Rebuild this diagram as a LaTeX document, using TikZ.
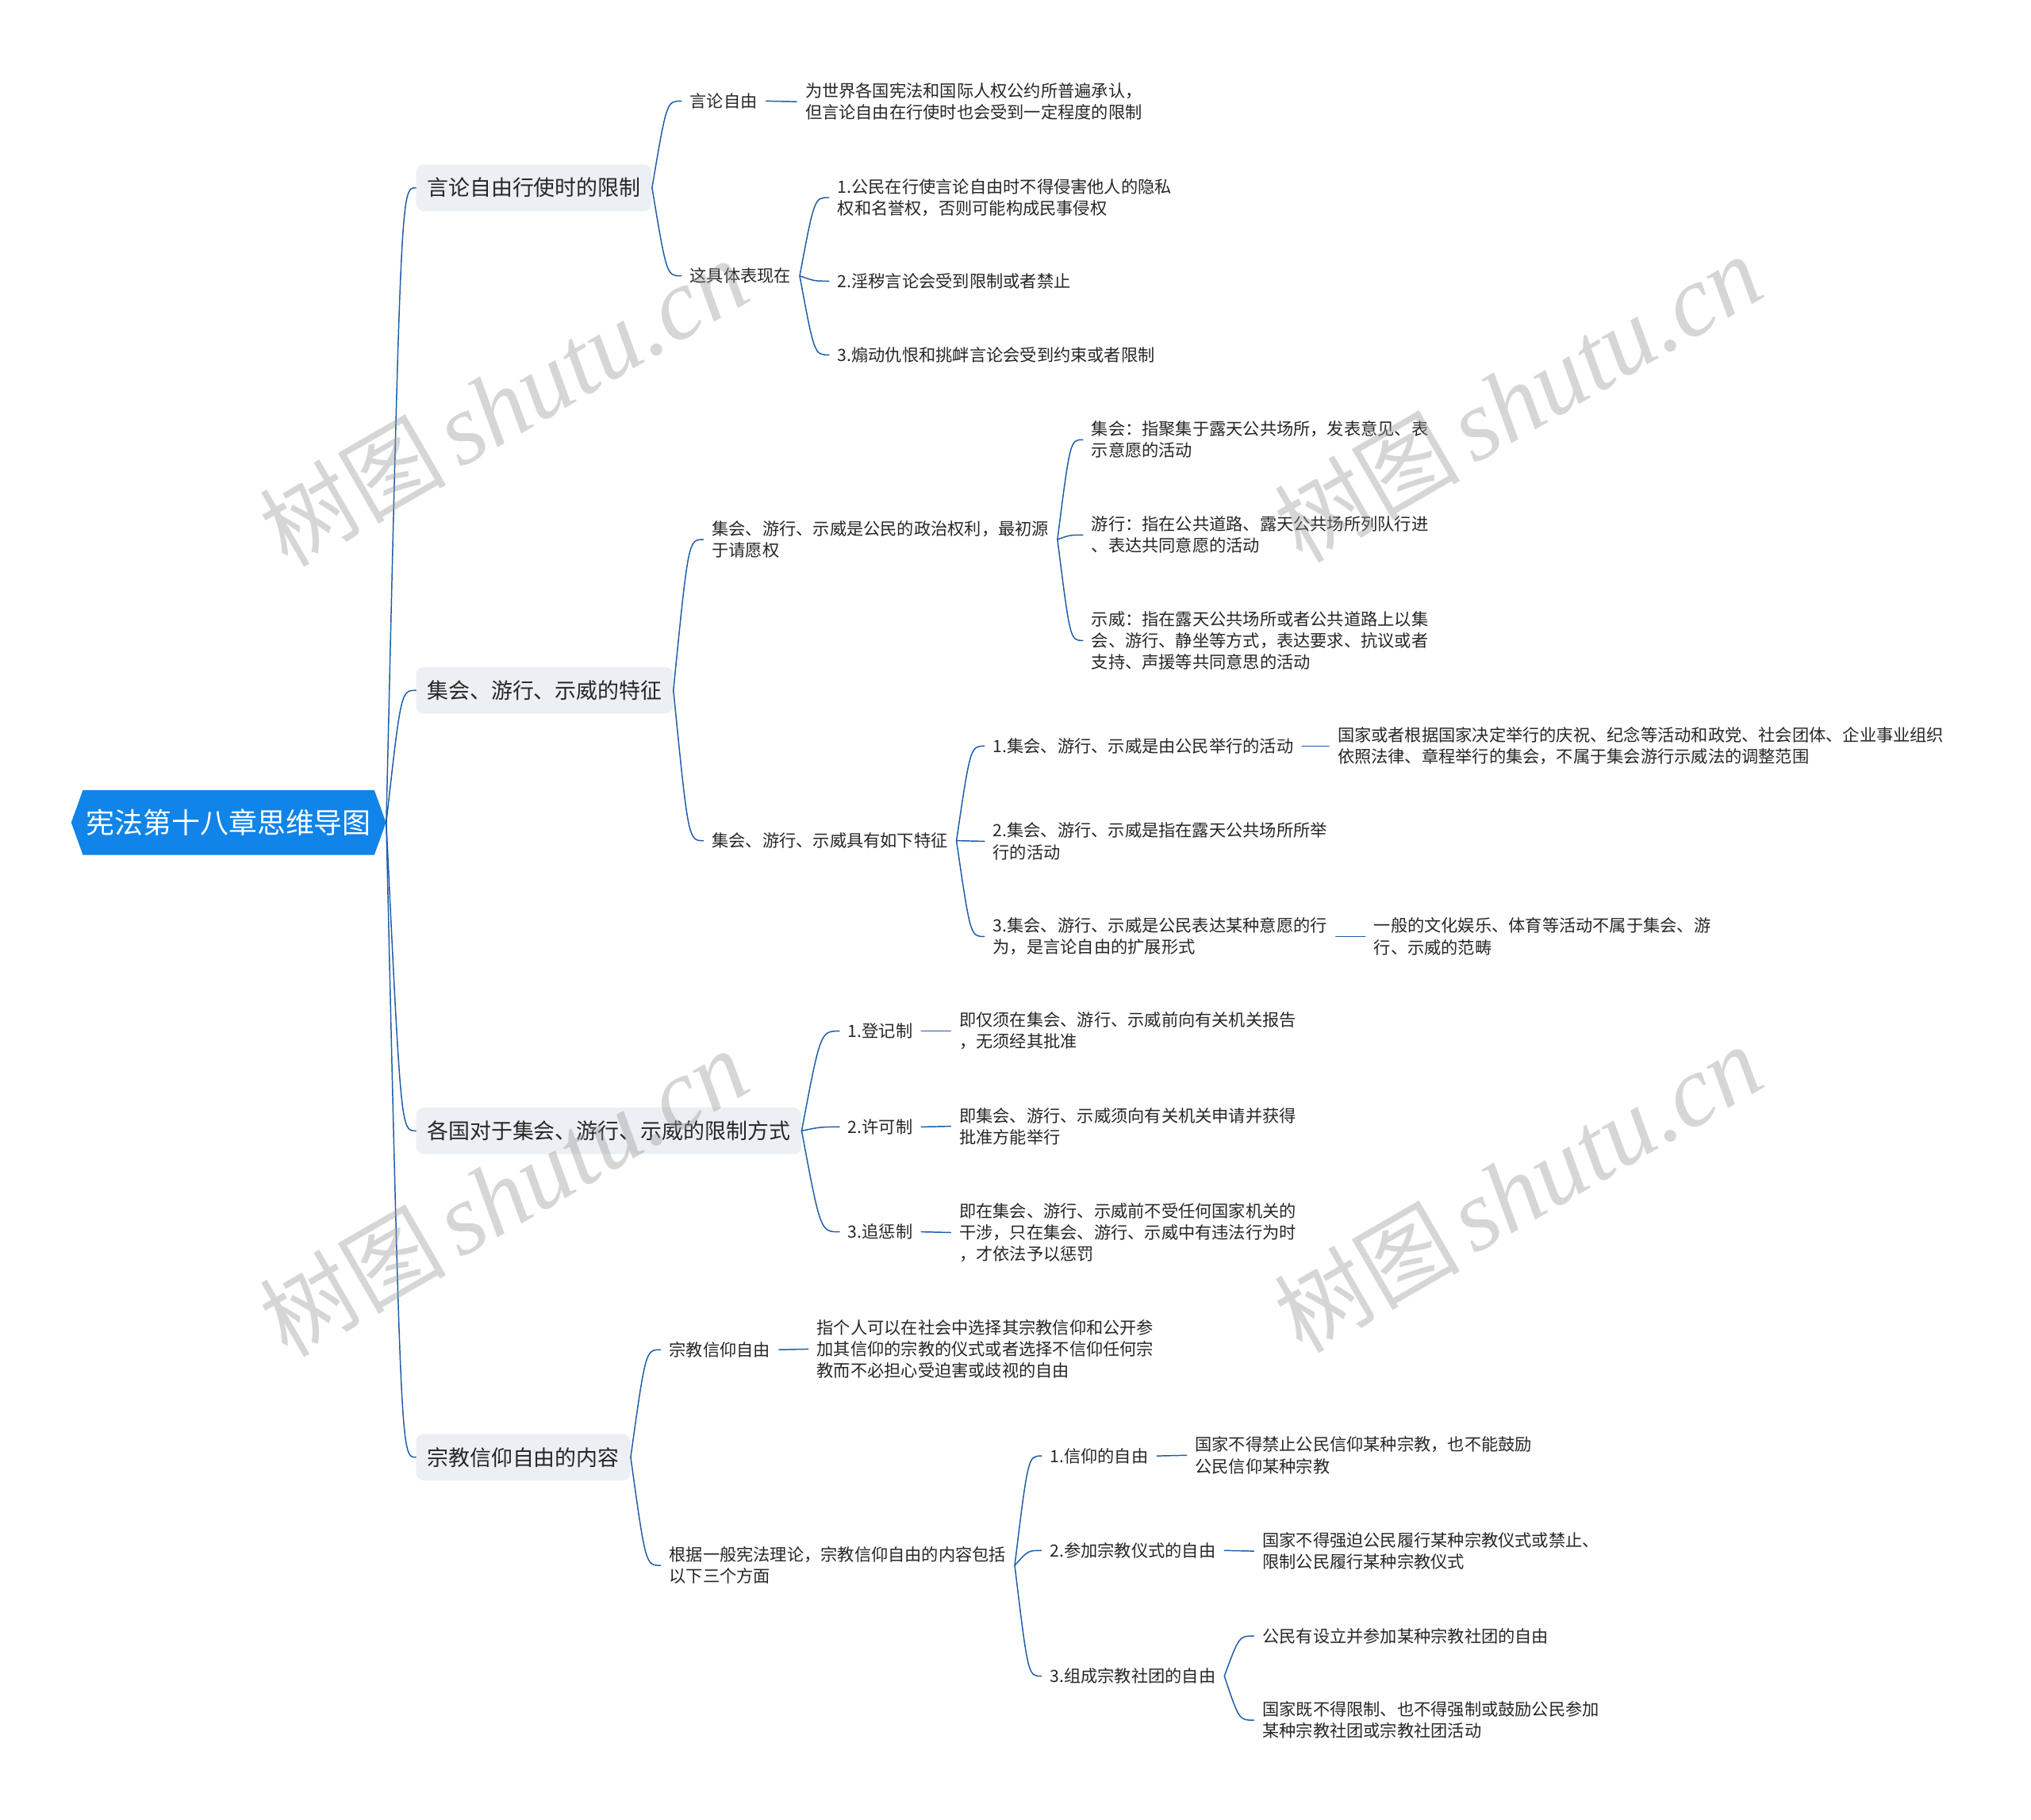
\documentclass[tikz,border=0pt]{standalone}
\usepackage{fontspec}
\setmainfont{Noto Sans CJK SC}
\newfontfamily\wmcjk{Noto Sans CJK SC}
\newfontfamily\wmlatin{Liberation Serif Italic}
\usetikzlibrary{calc}
\definecolor{mapblue}{RGB}{16,132,232}
\definecolor{linkblue}{RGB}{28,92,168}
\definecolor{topicgray}{RGB}{236,240,244}
\definecolor{inkgray}{RGB}{38,38,38}

\begin{document}
\begin{tikzpicture}[x=1pt,y=-1pt,line cap=round,
  centralnode/.style={font=\fontsize{22}{26}\selectfont,text=white,
   minimum width=243pt,minimum height=50pt,inner sep=0pt,fill=white,
   path picture={\fill[mapblue] (path picture bounding box.west)
    -- ([xshift=9pt]path picture bounding box.north west)
    -- ([xshift=-9pt]path picture bounding box.north east)
    -- (path picture bounding box.east)
    -- ([xshift=-9pt]path picture bounding box.south east)
    -- ([xshift=9pt]path picture bounding box.south west) -- cycle;}},
  topicnode/.style={anchor=west,fill=topicgray,rounded corners=6pt,
   minimum height=36pt,inner xsep=8.5pt,text=inkgray,
   font=\fontsize{16.5}{20}\selectfont},
  leafnode/.style={anchor=west,align=left,inner xsep=6.5pt,inner ysep=2pt,
   text=inkgray,font=\fontsize{13}{16.6}\selectfont},
  link/.style={draw=linkblue,line width=0.9pt,
   to path={let \p1=(\tikztostart),\p2=(\tikztotarget) in
    .. controls ({(\x1+\x2)/2},\y2) .. (\tikztotarget) \tikztonodes}},
  watermark/.style={rotate=30,anchor=base west,inner sep=0pt,
   text=black!40,opacity=0.4}]
 \useasboundingbox (0,0) rectangle (1568,1405);
 \node[centralnode] (root) at (176.5,635) {宪法第十八章思维导图};
 \node[topicnode] (rA) at (321,145) {言论自由行使时的限制};
 \node[topicnode] (rB) at (321,533) {集会、游行、示威的特征};
 \node[topicnode] (rC) at (321,873) {各国对于集会、游行、示威的限制方式};
 \node[topicnode] (rD) at (321,1125) {宗教信仰自由的内容};
 \node[leafnode] (A1) at (526,78) {言论自由};
 \node[leafnode] (A2) at (526,213) {这具体表现在};
 \node[leafnode] (A1a) at (615,78.5)
  {为世界各国宪法和国际人权公约所普遍承认，\\但言论自由在行使时也会受到一定程度的限制};
 \node[leafnode] (A2a) at (640,152.5)
  {1.公民在行使言论自由时不得侵害他人的隐私\\权和名誉权，否则可能构成民事侵权};
 \node[leafnode] (A2b) at (640,217) {2.淫秽言论会受到限制或者禁止};
 \node[leafnode] (A2c) at (640,274) {3.煽动仇恨和挑衅言论会受到约束或者限制};
 \node[leafnode] (B1) at (543,416.5)
  {集会、游行、示威是公民的政治权利，最初源\\于请愿权};
 \node[leafnode] (B2) at (543,649) {集会、游行、示威具有如下特征};
 \node[leafnode] (B1a) at (836,339.5)
  {集会：指聚集于露天公共场所，发表意见、表\\示意愿的活动};
 \node[leafnode] (B1b) at (836,413)
  {游行：指在公共道路、露天公共场所列队行进\\、表达共同意愿的活动};
 \node[leafnode] (B1c) at (836,494.5)
  {示威：指在露天公共场所或者公共道路上以集\\会、游行、静坐等方式，表达要求、抗议或者\\支持、声援等共同意思的活动};
 \node[leafnode] (B2a) at (760,576) {1.集会、游行、示威是由公民举行的活动};
 \node[leafnode] (B2b) at (760,649.5)
  {2.集会、游行、示威是指在露天公共场所所举\\行的活动};
 \node[leafnode] (B2c) at (760,723)
  {3.集会、游行、示威是公民表达某种意愿的行\\为，是言论自由的扩展形式};
 \node[leafnode] (B2a1) at (1026,576)
  {国家或者根据国家决定举行的庆祝、纪念等活动和政党、社会团体、企业事业组织\\依照法律、章程举行的集会，不属于集会游行示威法的调整范围};
 \node[leafnode] (B2c1) at (1054,723)
  {一般的文化娱乐、体育等活动不属于集会、游\\行、示威的范畴};
 \node[leafnode] (C1) at (648,796) {1.登记制};
 \node[leafnode] (C2) at (648,870) {2.许可制};
 \node[leafnode] (C3) at (648,951) {3.追惩制};
 \node[leafnode] (C1a) at (734,796)
  {即仅须在集会、游行、示威前向有关机关报告\\，无须经其批准};
 \node[leafnode] (C2a) at (734,869.5)
  {即集会、游行、示威须向有关机关申请并获得\\批准方能举行};
 \node[leafnode] (C3a) at (734,951.5)
  {即在集会、游行、示威前不受任何国家机关的\\干涉，只在集会、游行、示威中有违法行为时\\，才依法予以惩罚};
 \node[leafnode] (D1) at (510,1042) {宗教信仰自由};
 \node[leafnode] (D2) at (510,1208.5)
  {根据一般宪法理论，宗教信仰自由的内容包括\\以下三个方面};
 \node[leafnode] (D1a) at (624,1041.5)
  {指个人可以在社会中选择其宗教信仰和公开参\\加其信仰的宗教的仪式或者选择不信仰任何宗\\教而不必担心受迫害或歧视的自由};
 \node[leafnode] (D2a) at (804,1124) {1.信仰的自由};
 \node[leafnode] (D2b) at (804,1197) {2.参加宗教仪式的自由};
 \node[leafnode] (D2c) at (804,1294) {3.组成宗教社团的自由};
 \node[leafnode] (D2a1) at (916,1123.5)
  {国家不得禁止公民信仰某种宗教，也不能鼓励\\公民信仰某种宗教};
 \node[leafnode] (D2b1) at (968,1197.5)
  {国家不得强迫公民履行某种宗教仪式或禁止、\\限制公民履行某种宗教仪式};
 \node[leafnode] (D2c1) at (968,1263) {公民有设立并参加某种宗教社团的自由};
 \node[leafnode] (D2c2) at (968,1328)
  {国家既不得限制、也不得强制或鼓励公民参加\\某种宗教社团或宗教社团活动};
 \draw[link] (root.east) to (rA.west);
 \draw[link] (root.east) to (rB.west);
 \draw[link] (root.east) to (rC.west);
 \draw[link] (root.east) to (rD.west);
 \draw[link] (rA.east) to (A1.west);
 \draw[link] (rA.east) to (A2.west);
 \draw[link] (A1.east) to (A1a.west);
 \draw[link] (A2.east) to (A2a.west);
 \draw[link] (A2.east) to (A2b.west);
 \draw[link] (A2.east) to (A2c.west);
 \draw[link] (rB.east) to (B1.west);
 \draw[link] (rB.east) to (B2.west);
 \draw[link] (B1.east) to (B1a.west);
 \draw[link] (B1.east) to (B1b.west);
 \draw[link] (B1.east) to (B1c.west);
 \draw[link] (B2.east) to (B2a.west);
 \draw[link] (B2.east) to (B2b.west);
 \draw[link] (B2.east) to (B2c.west);
 \draw[link] (B2a.east) to (B2a1.west);
 \draw[link] (B2c.east) to (B2c1.west);
 \draw[link] (rC.east) to (C1.west);
 \draw[link] (rC.east) to (C2.west);
 \draw[link] (rC.east) to (C3.west);
 \draw[link] (C1.east) to (C1a.west);
 \draw[link] (C2.east) to (C2a.west);
 \draw[link] (C3.east) to (C3a.west);
 \draw[link] (rD.east) to (D1.west);
 \draw[link] (rD.east) to (D2.west);
 \draw[link] (D1.east) to (D1a.west);
 \draw[link] (D2.east) to (D2a.west);
 \draw[link] (D2.east) to (D2b.west);
 \draw[link] (D2.east) to (D2c.west);
 \draw[link] (D2a.east) to (D2a1.west);
 \draw[link] (D2b.east) to (D2b1.west);
 \draw[link] (D2c.east) to (D2c1.west);
 \draw[link] (D2c.east) to (D2c2.west);
 \node[watermark] (wm1) at (222,439)
  {{\wmcjk\fontsize{72}{72}\selectfont 树图}\hspace{10pt}{\wmlatin\fontsize{78}{78}\selectfont shutu.cn}};
 \node[watermark] (wm2) at (1005,436)
  {{\wmcjk\fontsize{72}{72}\selectfont 树图}\hspace{10pt}{\wmlatin\fontsize{78}{78}\selectfont shutu.cn}};
 \node[watermark] (wm3) at (222,1049)
  {{\wmcjk\fontsize{72}{72}\selectfont 树图}\hspace{10pt}{\wmlatin\fontsize{78}{78}\selectfont shutu.cn}};
 \node[watermark] (wm4) at (1005,1046)
  {{\wmcjk\fontsize{72}{72}\selectfont 树图}\hspace{10pt}{\wmlatin\fontsize{78}{78}\selectfont shutu.cn}};
\end{tikzpicture}
\end{document}
